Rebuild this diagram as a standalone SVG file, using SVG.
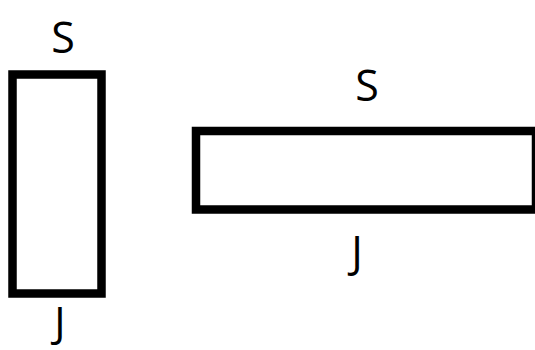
<svg xmlns="http://www.w3.org/2000/svg" width="535" height="350" viewBox="0 0 535 350">
<style>
.box{fill:#fff;stroke:#000;stroke-width:8.5}
.lbl{font-family:"Open Sans","Liberation Sans",sans-serif;font-size:43px;fill:#000;text-anchor:middle}
</style>
<rect width="535" height="350" fill="#fff"/>
<g id="node-vertical">
<rect class="box" x="12.5" y="74.5" width="89" height="219"/>
<text class="lbl" x="63" y="53">S</text>
<text class="lbl" x="60" y="337" style="font-size:42px">J</text>
</g>
<g id="node-horizontal">
<rect class="box" x="196" y="131" width="340" height="78.5"/>
<text class="lbl" x="367" y="101">S</text>
<text class="lbl" x="357" y="267">J</text>
</g>
<g id="connectors"></g>
</svg>
